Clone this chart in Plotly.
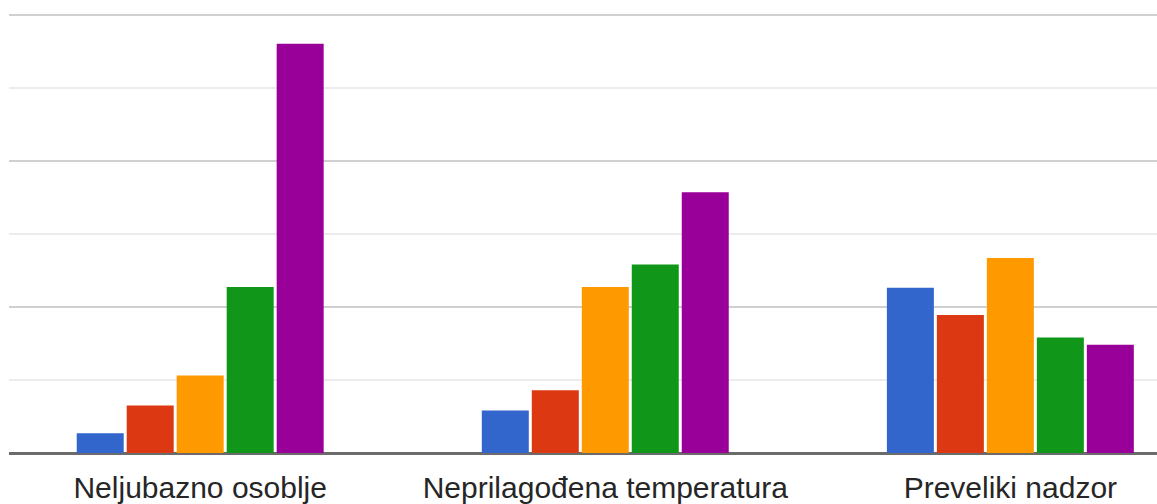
import plotly.graph_objects as go

categories = ["Neljubazno osoblje", "Neprilagođena temperatura", "Preveliki nadzor"]
series_names = ["1", "2", "3", "4", "5"]
series_colors = ["#3366cc", "#dc3912", "#ff9900", "#109618", "#990099"]
values_1 = [2.7, 5.8, 22.6]
values_2 = [6.5, 8.6, 18.9]
values_3 = [10.6, 22.7, 26.7]
values_4 = [22.7, 25.8, 15.8]
values_5 = [56.0, 35.7, 14.8]
all_values = [values_1, values_2, values_3, values_4, values_5]

fig = go.Figure()
for name, color, vals in zip(series_names, series_colors, all_values):
    fig.add_trace(go.Bar(x=categories, y=vals, name=name,
                         marker=dict(color=color, line=dict(width=0))))

fig.update_layout(
    width=1157, height=504,
    margin=dict(l=9, r=0, t=12, b=51),
    barmode="group", bargap=0.383, bargroupgap=0.06,
    showlegend=False,
    plot_bgcolor="white", paper_bgcolor="white",
    font=dict(family="Liberation Sans, Arial, sans-serif", color="#222222"),
)
fig.update_xaxes(range=[-0.472, 2.362], showgrid=False, showline=False,
                 ticks="", tickfont=dict(size=30, color="#262626"),
                 automargin=False, ticklabelstandoff=14)
fig.update_yaxes(range=[0, 60.35], dtick=20, showticklabels=False,
                 gridcolor="#d0d0d0", gridwidth=2,
                 minor=dict(dtick=10, showgrid=True, gridcolor="#ececec", gridwidth=2),
                 zeroline=True, zerolinecolor="#6b6b6b", zerolinewidth=3,
                 automargin=False)

fig.write_html("out.html", config={"displayModeBar": False},
               post_script="document.body.style.margin='0';")
